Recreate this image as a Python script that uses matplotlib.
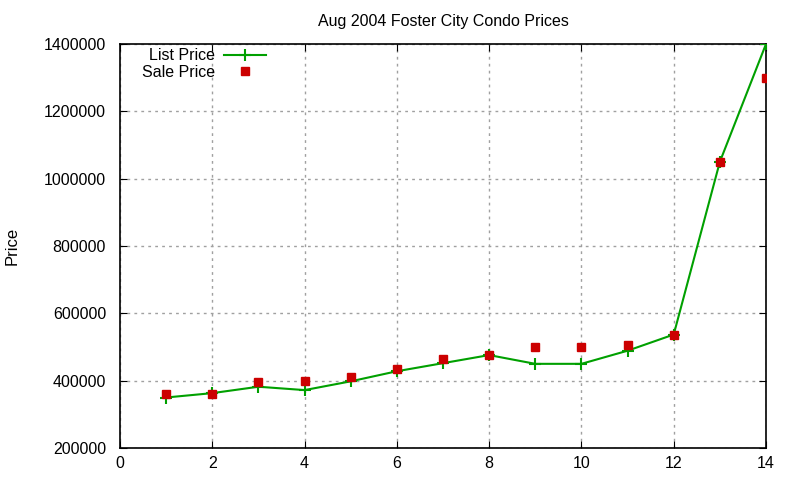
import matplotlib
matplotlib.use("Agg")
import matplotlib.pyplot as plt

plt.rcParams['font.family'] = ['Liberation Sans', 'DejaVu Sans']

months = [1, 2, 3, 4, 5, 6, 7, 8, 9, 10, 11, 12, 13, 14]
list_price = [350000, 363000, 382000, 372000, 398000, 428000, 452000,
              476000, 450000, 450000, 489000, 537000, 1050000, 1400000]
sale_price = [360000, 360000, 396000, 399000, 411000, 436000, 464000,
              476000, 501000, 501000, 507000, 537000, 1050000, 1300000]

fig = plt.figure(figsize=(8, 4.8), dpi=100)
ax = fig.add_axes([120/800, 1 - 448/480, 646/800, 404/480])

ax.plot(months, list_price, color='#00a000', lw=1.5, marker='+', ms=8,
        mew=1.5, label='List Price', zorder=3)
ax.plot(months, sale_price, color='#cc0000', ls='none', marker='s', ms=6,
        label='Sale Price', zorder=4)

ax.set_xlim(0, 14)
ax.set_ylim(200000, 1400000)
ax.set_xticks(range(0, 15, 2))
ax.set_yticks(range(200000, 1400001, 200000))
ax.ticklabel_format(style='plain', axis='y')
ax.tick_params(direction='in', top=True, right=True, length=5, labelsize=11.5,
               color='black')
ax.tick_params(axis='y', pad=10)
ax.tick_params(axis='x', pad=6)
ax.grid(True, color='#a0a0a0', ls=(0, (2, 3)), lw=1)
for s in ax.spines.values():
    s.set_linewidth(1.2)

ax.set_title('Aug 2004 Foster City Condo Prices', fontsize=11.5, pad=13)
ax.set_ylabel('Price', fontsize=12)
ax.yaxis.set_label_coords(-0.156, 0.5)

ax.legend(loc='upper left', bbox_to_anchor=(0.012, 1.025), frameon=False,
          markerfirst=False, fontsize=11.5, handlelength=2.6, labelspacing=0.1,
          handletextpad=0.55)

fig.savefig('out.png', dpi=100)
